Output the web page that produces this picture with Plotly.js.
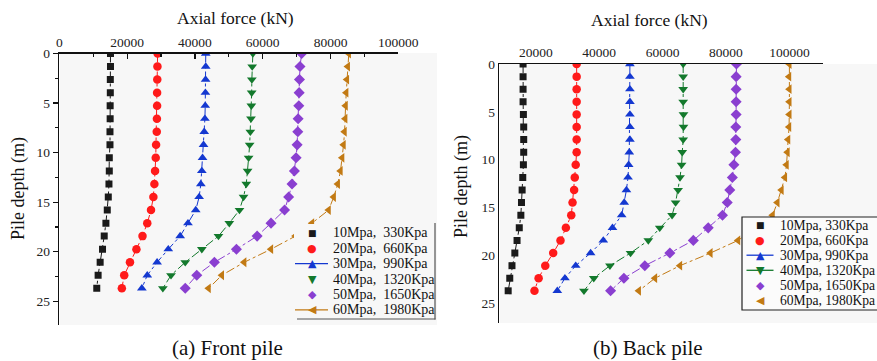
<!DOCTYPE html>
<html>
<head>
<meta charset="utf-8">
<script src="https://cdn.plot.ly/plotly-3.0.1.min.js"></script>
<style>html,body{margin:0;padding:0;background:#fff;}#chart{width:877px;height:361px;}</style>
</head>
<body>
<div id="chart"></div>
<script>
// ---------------- data ----------------
// pile depth (m) of every measuring point
const depth = [0, 1.32, 2.63, 3.95, 5.27, 6.58, 7.9, 9.22, 10.53, 11.85, 13.17, 14.48, 15.8, 17.12, 18.43, 19.75, 21.07, 22.38, 23.7];

// (a) Front pile – axial force (kN)
const front10 = [15100,15100,15050,15050,15000,15000,14950,14950,14750,14750,14650,14450,14150,13750,13250,12750,12050,11450,11050];
const front20 = [29000,28950,28900,28850,28850,28800,28750,28550,28450,28250,28050,27750,27050,25950,24550,22750,20850,19150,18450];
const front30 = [43200,43200,43150,43100,43050,42950,42750,42550,42250,42050,41750,41250,40250,37950,35650,32150,28850,25950,24350];
const front40 = [57100,56900,56800,56750,56650,56550,56350,56150,55850,55550,55150,54350,53150,50150,46950,42050,37150,32950,30550];
const front50 = [71500,71000,70850,70750,70650,70450,70350,70150,69850,69350,68650,67650,66450,62450,58350,52250,45750,40550,37150];
const front60 = [85400,85100,84850,84650,84450,84350,84150,83850,83450,82950,82150,80950,79450,74550,69650,62450,54550,47950,44050];

// (b) Back pile – axial force (kN)
const back10 = [16000,16000,16000,16000,16100,16200,16200,16200,16100,15900,15700,15500,15300,14800,14100,13400,12500,11800,11300];
const back20 = [32900,32900,32900,32900,32900,32900,32900,32900,32600,32300,32100,31600,31200,29500,27800,25500,23000,20900,19600];
const back30 = [49700,49700,49700,49700,49700,49700,49700,49500,49300,49100,48600,47900,47100,44200,41300,37300,32600,29200,26800];
const back40 = [66500,66500,66500,66500,66600,66600,66500,66200,66000,65500,64900,64100,63000,59100,55500,49900,43400,38300,35200];
const back50 = [83300,83200,83200,83200,83200,83100,83100,83000,82500,82000,81200,80400,78900,74400,69700,62300,54400,47800,43600];
const back60 = [100000,99900,100000,100000,100000,99900,99600,99400,99100,98600,97500,96200,94700,89500,83800,75100,65500,57600,52500];

const seriesNames = ['10Mpa, 330Kpa','20Mpa, 660Kpa','30Mpa, 990Kpa','40Mpa, 1320Kpa','50Mpa, 1650Kpa','60Mpa, 1980Kpa'];
const legendLeft  = ['10Mpa,\u00a0 330Kpa','20Mpa,\u00a0 660Kpa','30Mpa,\u00a0 990Kpa','40Mpa,\u00a0 1320Kpa','50Mpa,\u00a0 1650Kpa','60Mpa,\u00a0 1980Kpa'];
const legendRight = ['10Mpa, 330Kpa','20Mpa, 660Kpa','30Mpa, 990Kpa','40Mpa, 1320Kpa','50Mpa, 1650Kpa','60Mpa, 1980Kpa'];
const xTickLeft = [0, 20000, 40000, 60000, 80000, 100000];
const xTickRight = [20000, 40000, 60000, 80000, 100000];
const yTicks = [0, 5, 10, 15, 20, 25];

// ---------------- styles ----------------
const colors  = ['#1a1a1a','#ff1a1a','#1438d0','#13792c','#8a3fd0','#c27a14'];
const symbols = ['square','circle','triangle-up','triangle-down','diamond','triangle-left'];
const glyphs  = ['\u25A0','\u25CF','\u25B2','\u25BC','\u25C6','\u25C0'];
const sizes   = [7, 8.5, 8.5, 8.5, 8.5, 8.5];
const legendLineLeft  = [false,false,true,false,false,true];
const legendLineRight = [false,false,true,true,false,false];

const W = 877, H = 361;
const PX = x => x / W;
const PY = y => 1 - y / H;
const SERIF = 'Liberation Serif';
const BG = '#f7f7f7';

const frontSets = [front10, front20, front30, front40, front50, front60];
const backSets  = [back10, back20, back30, back40, back50, back60];

const traces = [];
function addSeries(sets, xa, ya) {
  sets.forEach((vals, i) => {
    traces.push({
      type: 'scatter', mode: 'lines+markers',
      x: vals, y: depth, xaxis: xa, yaxis: ya,
      name: seriesNames[i], showlegend: false,
      line: {color: colors[i], width: 1, dash: 'dashdot'},
      marker: {symbol: symbols[i], size: sizes[i], color: colors[i], line: {width: 0}},
      hoverinfo: 'x+y+name'
    });
  });
}
addSeries(frontSets, 'x', 'y');
addSeries(backSets, 'x2', 'y2');

const tickFont = {family: SERIF, size: 13.5, color: '#222'};
const axisCommon = {showline: true, linecolor: '#111', linewidth: 1.5, showgrid: false, zeroline: false, tickfont: tickFont, tickcolor: '#111', tickwidth: 1.2};

const shapes = [];
const annotations = [];

// plot backgrounds
shapes.push({type:'rect', xref:'paper', yref:'paper', x0:PX(60), x1:PX(437), y0:PY(325), y1:PY(53), fillcolor:BG, line:{width:0}, layer:'below'});
shapes.push({type:'rect', xref:'paper', yref:'paper', x0:PX(500), x1:PX(877), y0:PY(323), y1:PY(64), fillcolor:BG, line:{width:0}, layer:'below'});

// legend boxes
shapes.push({type:'rect', xref:'paper', yref:'paper', x0:PX(294), x1:PX(435), y0:PY(319), y1:PY(224), fillcolor:BG, line:{width:0}, layer:'above'});
shapes.push({type:'line', xref:'paper', yref:'paper', x0:PX(435), x1:PX(435), y0:PY(319.5), y1:PY(223), line:{color:'#333', width:1}, layer:'above'});
shapes.push({type:'line', xref:'paper', yref:'paper', x0:PX(297), x1:PX(435.5), y0:PY(319), y1:PY(319), line:{color:'#555', width:1}, layer:'above'});
shapes.push({type:'rect', xref:'paper', yref:'paper', x0:PX(742), x1:PX(878), y0:PY(310), y1:PY(217), fillcolor:'#fbfbfb', line:{color:'#222', width:1.2}, layer:'above'});

function addLegend(labels, lineFlags, symX, textX, lineX0, lineX1, y0, step, fontSize) {
  labels.forEach((lab, i) => {
    const y = y0 + i * step;
    if (lineFlags[i]) {
      shapes.push({type:'line', xref:'paper', yref:'paper', x0:PX(lineX0), x1:PX(lineX1), y0:PY(y), y1:PY(y), line:{color:colors[i], width:1.3}, layer:'above'});
    }
    annotations.push({xref:'paper', yref:'paper', x:PX(symX), y:PY(y), xanchor:'center', yanchor:'middle', showarrow:false,
      text: glyphs[i], font:{family:'DejaVu Sans', size: i === 0 ? 9 : 11, color: colors[i]}});
    annotations.push({xref:'paper', yref:'paper', x:PX(textX), y:PY(y), xanchor:'left', yanchor:'middle', showarrow:false,
      text: lab, font:{family:SERIF, size:fontSize, color:'#111'}});
  });
}
addLegend(legendLeft, legendLineLeft, 312.3, 331, 295, 328, 232.7, 15.45, 14);
addLegend(legendRight, legendLineRight, 760, 778, 746.5, 773.5, 225, 15.1, 13.6);

// titles and captions
const titleFont = {family: SERIF, size: 17.5, color: '#111'};
annotations.push({xref:'paper', yref:'paper', x:PX(235), y:PY(18), xanchor:'center', yanchor:'middle', showarrow:false, text:'Axial force (kN)', font:titleFont});
annotations.push({xref:'paper', yref:'paper', x:PX(649), y:PY(20), xanchor:'center', yanchor:'middle', showarrow:false, text:'Axial force (kN)', font:titleFont});
annotations.push({xref:'paper', yref:'paper', x:PX(18), y:PY(189), xanchor:'center', yanchor:'middle', showarrow:false, textangle:-90, text:'Pile depth (m)', font:{family:SERIF, size:18, color:'#111'}});
annotations.push({xref:'paper', yref:'paper', x:PX(461), y:PY(187), xanchor:'center', yanchor:'middle', showarrow:false, textangle:-90, text:'Pile depth (m)', font:{family:SERIF, size:18, color:'#111'}});
annotations.push({xref:'paper', yref:'paper', x:PX(227), y:PY(348), xanchor:'center', yanchor:'middle', showarrow:false, text:'(a) Front pile', font:{family:SERIF, size:21, color:'#111'}});
annotations.push({xref:'paper', yref:'paper', x:PX(648), y:PY(348), xanchor:'center', yanchor:'middle', showarrow:false, text:'(b) Back pile', font:{family:SERIF, size:21, color:'#111'}});

const layout = {
  width: W, height: H,
  margin: {l:0, r:0, t:0, b:0},
  paper_bgcolor: '#ffffff', plot_bgcolor: 'rgba(0,0,0,0)',
  showlegend: false,
  font: {family: SERIF, color: '#111'},
  xaxis: Object.assign({}, axisCommon, {
    domain: [PX(59.3), PX(398.3)], range: [0, 100000], side: 'top', anchor: 'y',
    tickmode: 'array', tickvals: xTickLeft, ticktext: xTickLeft.map(String),
    ticks: 'inside', ticklen: 5,
    minor: {ticks: 'inside', ticklen: 3, dtick: 10000, tick0: 0, tickcolor: '#111', tickwidth: 1.2}
  }),
  yaxis: Object.assign({}, axisCommon, {
    domain: [PY(325), PY(53.5)], range: [27.4, 0], anchor: 'x',
    tickmode: 'array', tickvals: yTicks, ticktext: yTicks.map(String),
    ticks: 'outside', ticklen: 5,
    minor: {ticks: 'outside', ticklen: 3, dtick: 2.5, tick0: 0, tickcolor: '#111', tickwidth: 1.2}
  }),
  xaxis2: Object.assign({}, axisCommon, {
    domain: [PX(499.3), PX(823)], range: [8500, 110600], side: 'top', anchor: 'y2',
    tickmode: 'array', tickvals: xTickRight, ticktext: xTickRight.map(String),
    ticks: ''
  }),
  yaxis2: Object.assign({}, axisCommon, {
    domain: [PY(323), PY(64)], range: [27.06, 0], anchor: 'x2',
    tickmode: 'array', tickvals: yTicks, ticktext: yTicks.map(String),
    ticks: ''
  }),
  shapes: shapes,
  annotations: annotations
};

Plotly.newPlot('chart', traces, layout, {displayModeBar: false, staticPlot: true});
</script>
</body>
</html>
